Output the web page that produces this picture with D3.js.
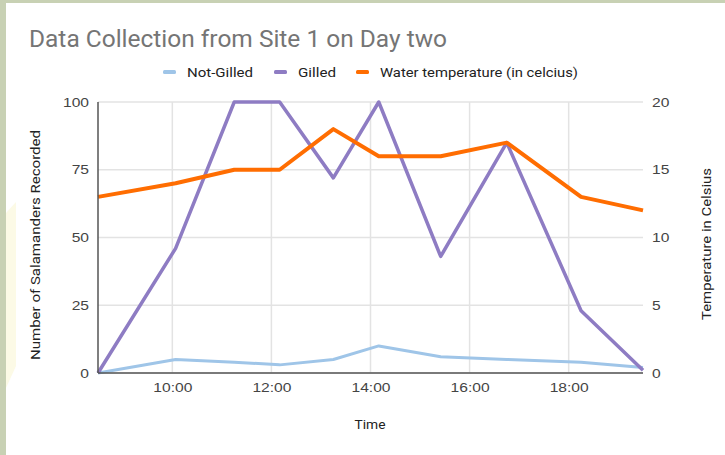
<!DOCTYPE html>
<html>
<head>
<meta charset="utf-8">
<script src="https://d3js.org/d3.v7.min.js"></script>
<style>
  body { margin: 0; background: #fff; }
  svg { display: block; }
</style>
</head>
<body>
<script>
// data
var times = ["08:30", "10:04", "11:15", "12:10", "13:15", "14:10", "15:25", "16:45", "18:15", "19:30"];
var notGilled = [0, 5, 4, 3, 5, 10, 6, 5, 4, 2];
var gilled = [0, 46, 100, 100, 72, 100, 43, 85, 23, 1];
var waterTemp = [13, 14, 15, 15, 18, 16, 16, 17, 13, 12];
var xTicks = ["10:00", "12:00", "14:00", "16:00", "18:00"];
var leftTicks = [0, 25, 50, 75, 100];
var rightTicks = [0, 5, 10, 15, 20];
var seriesNames = ["Not-Gilled", "Gilled", "Water temperature (in celcius)"];
var seriesColors = ["#9fc5e8", "#8e7cc3", "#ff6d01"];

var width = 725, height = 455;
var parse = d3.timeParse("%H:%M");

var svg = d3.select("body").append("svg")
  .attr("width", width).attr("height", height)
  .style("font-family", "Roboto, Arial, sans-serif");

// the chart was stretched sideways in the slide, so text is widened to match
function stretch(sel, k) {
  sel.each(function() {
    var w = this.getComputedTextLength();
    d3.select(this).attr("textLength", w * k).attr("lengthAdjust", "spacingAndGlyphs");
  });
}

// slide frame
svg.append("rect").attr("width", width).attr("height", height).attr("fill", "#fff");
svg.append("rect").attr("x", 0).attr("y", 0).attr("width", 6).attr("height", height).attr("fill", "#c8d1b4");
svg.append("rect").attr("x", 0).attr("y", 0).attr("width", width).attr("height", 3).attr("fill", "#c8d1b4");
svg.append("polygon").attr("points", "6,213 16,202 16,366 6,388").attr("fill", "#fcfae6");

var x = d3.scaleTime().domain([parse("08:30"), parse("19:30")]).range([98, 643]);
var y = d3.scaleLinear().domain([0, 100]).range([373, 102]);
var y2 = d3.scaleLinear().domain([0, 20]).range([373, 102]);

// grid
var grid = svg.append("g");
grid.selectAll(".hg").data(leftTicks).enter().append("line")
  .attr("x1", x.range()[0]).attr("x2", x.range()[1])
  .attr("y1", d => y(d)).attr("y2", d => y(d))
  .attr("stroke", "#e3e3e3").attr("stroke-width", 1.5);
grid.selectAll(".vg").data(xTicks).enter().append("line")
  .attr("x1", d => x(parse(d))).attr("x2", d => x(parse(d)))
  .attr("y1", y(0)).attr("y2", y(100))
  .attr("stroke", "#e3e3e3").attr("stroke-width", 1.5);

// axes
var tickColor = "#444";
var leftAxis = svg.append("g").attr("transform", "translate(" + x.range()[0] + ",0)")
  .call(d3.axisLeft(y).tickValues(leftTicks).tickSize(0).tickPadding(9));
var rightAxis = svg.append("g").attr("transform", "translate(" + x.range()[1] + ",0)")
  .call(d3.axisRight(y2).tickValues(rightTicks).tickSize(0).tickPadding(9));
var bottomAxis = svg.append("g").attr("transform", "translate(0," + y(0) + ")")
  .call(d3.axisBottom(x).tickValues(xTicks.map(parse)).tickFormat(d3.timeFormat("%H:%M")).tickSize(0).tickPadding(10));
[leftAxis, rightAxis, bottomAxis].forEach(function(a) {
  a.select(".domain").remove();
  a.selectAll("text").attr("fill", tickColor).style("font-size", "13px").call(stretch, 1.2);
});

// series lines
var allSeries = [notGilled, gilled, waterTemp];
var scales = [y, y, y2];
var widths = [3, 3.5, 4];
allSeries.forEach(function(vals, i) {
  var line = d3.line().x((d, j) => x(parse(times[j]))).y(d => scales[i](d));
  svg.append("path").datum(vals)
    .attr("d", line)
    .attr("fill", "none")
    .attr("stroke", seriesColors[i])
    .attr("stroke-width", widths[i])
    .attr("stroke-linejoin", "round");
});

// axis baselines drawn over
svg.append("line").attr("x1", 98).attr("x2", 98).attr("y1", y(100)).attr("y2", y(0))
  .attr("stroke", "#555").attr("stroke-width", 1.5);
svg.append("line").attr("x1", 98).attr("x2", 643).attr("y1", y(0)).attr("y2", y(0))
  .attr("stroke", "#555").attr("stroke-width", 1.5);

// title
svg.append("text").attr("x", 29).attr("y", 47)
  .text("Data Collection from Site 1 on Day two")
  .attr("fill", "#757575").style("font-size", "23px")
  .attr("textLength", 418).attr("lengthAdjust", "spacingAndGlyphs");

// legend
var legendX = [163, 274, 356];
var legendW = [66, 38, 198];
var legend = svg.append("g").selectAll("g").data(seriesNames).enter().append("g")
  .attr("transform", (d, i) => "translate(" + legendX[i] + ",72)");
legend.append("rect").attr("x", 0).attr("y", -2).attr("width", 13).attr("height", 4).attr("rx", 1.5)
  .attr("fill", (d, i) => seriesColors[i]);
legend.append("text").attr("x", 24).attr("y", 5).text(d => d)
  .attr("fill", "#222").style("font-size", "13px")
  .attr("textLength", (d, i) => legendW[i]).attr("lengthAdjust", "spacingAndGlyphs");

// axis titles
svg.append("text").attr("x", 370).attr("y", 429).attr("text-anchor", "middle")
  .text("Time").attr("fill", "#222").style("font-size", "13px")
  .attr("textLength", 31).attr("lengthAdjust", "spacingAndGlyphs");
svg.append("text").attr("transform", "translate(40,245) rotate(-90)").attr("text-anchor", "middle")
  .text("Number of Salamanders Recorded").attr("fill", "#222").style("font-size", "13px")
  .attr("textLength", 230).attr("lengthAdjust", "spacingAndGlyphs");
svg.append("text").attr("transform", "translate(711,244) rotate(-90)").attr("text-anchor", "middle")
  .text("Temperature in Celsius").attr("fill", "#222").style("font-size", "13px")
  .attr("textLength", 152).attr("lengthAdjust", "spacingAndGlyphs");
</script>
</body>
</html>
